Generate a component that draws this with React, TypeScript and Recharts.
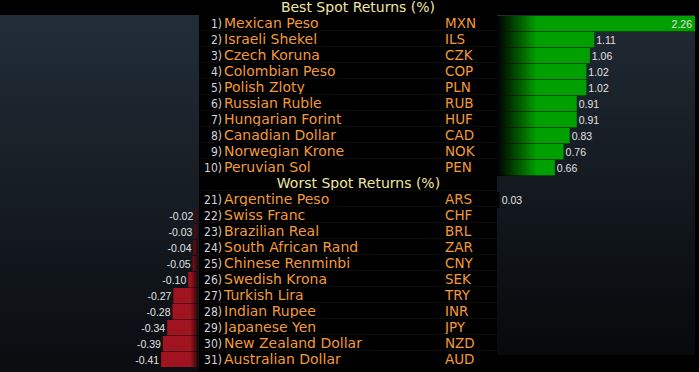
import { BarChart, Bar, XAxis, YAxis, LabelList } from 'recharts';

const bestRanks = [1, 2, 3, 4, 5, 6, 7, 8, 9, 10];
const bestNames = ['Mexican Peso', 'Israeli Shekel', 'Czech Koruna', 'Colombian Peso', 'Polish Zloty', 'Russian Ruble', 'Hungarian Forint', 'Canadian Dollar', 'Norwegian Krone', 'Peruvian Sol'];
const bestCodes = ['MXN', 'ILS', 'CZK', 'COP', 'PLN', 'RUB', 'HUF', 'CAD', 'NOK', 'PEN'];
const bestReturns = [2.26, 1.11, 1.06, 1.02, 1.02, 0.91, 0.91, 0.83, 0.76, 0.66];

const worstRanks = [21, 22, 23, 24, 25, 26, 27, 28, 29, 30, 31];
const worstNames = ['Argentine Peso', 'Swiss Franc', 'Brazilian Real', 'South African Rand', 'Chinese Renminbi', 'Swedish Krona', 'Turkish Lira', 'Indian Rupee', 'Japanese Yen', 'New Zealand Dollar', 'Australian Dollar'];
const worstCodes = ['ARS', 'CHF', 'BRL', 'ZAR', 'CNY', 'SEK', 'TRY', 'INR', 'JPY', 'NZD', 'AUD'];
const worstReturns = [0.03, -0.02, -0.03, -0.04, -0.05, -0.10, -0.27, -0.28, -0.34, -0.39, -0.41];

const titles = ['Best Spot Returns (%)', 'Worst Spot Returns (%)'];

type Row = {
    key: string;
    rank?: number;
    name?: string;
    code?: string;
    header?: string;
    pos: number | null;
    neg: number | null;
};

const toRow = (prefix: string, ranks: number[], names: string[], codes: string[], vals: number[]): Row[] =>
    names.map((n, i) => ({
        key: `${prefix}${i}`,
        rank: ranks[i],
        name: n,
        code: codes[i],
        pos: vals[i] >= 0 ? vals[i] : null,
        neg: vals[i] < 0 ? vals[i] : null,
    }));

const rows: Row[] = [
    ...toRow('b', bestRanks, bestNames, bestCodes, bestReturns),
    { key: 'hdr', header: titles[1], pos: null, neg: null },
    ...toRow('w', worstRanks, worstNames, worstCodes, worstReturns),
];

const ORANGE = '#f09a3a';
const CREAM = '#f2e6a4';
const LABEL = '#e2e2e2';
const ROW_H = 16;
const CHART_H = rows.length * ROW_H;
const MID_W = 298;

// bar fills the row, with a darker 1px seam at its bottom
// eslint-disable-next-line @typescript-eslint/no-explicit-any
const BarShape = (p: any) => {
    let { x, width } = p;
    if (width < 0) { x += width; width = -width; }
    if (!width) return null;
    const top = Math.floor(p.y);
    return (
        <g>
            <rect x={x} y={top} width={width} height={ROW_H} fill={p.fill} />
            <rect x={x} y={top + ROW_H - 1} width={width} height={1} fill="rgba(0,0,0,0.55)" />
        </g>
    );
};

// eslint-disable-next-line @typescript-eslint/no-explicit-any
const RowTick = (props: any) => {
    const { y, payload } = props;
    const row = rows.find(r => r.key === payload.value);
    if (!row) return null;
    if (row.header) {
        return (
            <text x={159.5} y={y + 5} textAnchor="middle" fill={CREAM} fontSize={14} fontFamily="DejaVu Sans">
                {row.header}
            </text>
        );
    }
    return (
        <g>
            <line x1={2} x2={MID_W} y1={y - 8.5} y2={y - 8.5} stroke="#0c0c0c" />
            <text x={23} y={y + 4.5} textAnchor="end" fill="#d4d4dc" fontSize={12}
                fontFamily="'Liberation Sans Narrow', 'DejaVu Sans Condensed', sans-serif">
                {row.rank})
            </text>
            <text x={25} y={y + 5} fill={ORANGE} fontSize={14} fontFamily="DejaVu Sans">{row.name}</text>
            <text x={246} y={y + 5} fill={ORANGE} fontSize={13.5} fontFamily="DejaVu Sans">{row.code}</text>
        </g>
    );
};

// eslint-disable-next-line @typescript-eslint/no-explicit-any
const PosLabel = (p: any) => {
    if (p.value == null) return null;
    const inside = p.value > 2;
    const cy = Math.floor(p.y) + 7.5;
    return (
        <text x={inside ? p.x + p.width - 3 : p.x + p.width + 2} y={cy + 4}
            textAnchor={inside ? 'end' : 'start'} fill={LABEL} fontSize={10.5} fontFamily="Liberation Sans">
            {Number(p.value).toFixed(2)}
        </text>
    );
};

// eslint-disable-next-line @typescript-eslint/no-explicit-any
const NegLabel = (p: any) => {
    if (p.value == null) return null;
    const left = Math.min(p.x, p.x + p.width);
    const cy = Math.floor(p.y) + 7.5;
    return (
        <text x={left - 2} y={cy + 4} textAnchor="end" fill={LABEL} fontSize={10.5} fontFamily="Liberation Sans">
            {Number(p.value).toFixed(2)}
        </text>
    );
};

export default function App() {
    return (
        <div style={{ position: 'absolute', left: 0, top: 0, width: 699, height: 372, background: '#000', overflow: 'hidden' }}>
            <div style={{ position: 'absolute', left: 0, top: 15, width: 199, height: 357, background: 'linear-gradient(#222d38, #0a0c0f)' }} />
            <div style={{ position: 'absolute', left: 497, top: 15, width: 198, height: 340, background: 'linear-gradient(#202a34, #07090b)' }} />
            <div style={{ position: 'absolute', left: 209, top: 0, width: 298, height: 15, lineHeight: '15px', textAlign: 'center', color: CREAM, fontSize: 14, fontFamily: 'DejaVu Sans' }}>
                {titles[0]}
            </div>

            <div style={{ position: 'absolute', left: 0, top: 15 }}>
                <BarChart width={197} height={CHART_H} data={rows} layout="vertical" margin={{ top: 0, right: 0, bottom: 0, left: 0 }}>
                    <defs>
                        <linearGradient id="redFade" gradientUnits="userSpaceOnUse" x1={0} y1={0} x2={197} y2={0}>
                            <stop offset="0.965" stopColor="#a01422" />
                            <stop offset="1" stopColor="#3c070c" />
                        </linearGradient>
                    </defs>
                    <XAxis type="number" domain={[-2.25, 0]} hide />
                    <YAxis type="category" dataKey="key" hide />
                    <Bar dataKey="neg" barSize={15} fill="url(#redFade)" shape={BarShape} isAnimationActive={false}>
                        <LabelList dataKey="neg" content={NegLabel} />
                    </Bar>
                </BarChart>
            </div>

            <div style={{ position: 'absolute', left: 199, top: 15 }}>
                <BarChart width={MID_W + 198} height={CHART_H} data={rows} layout="vertical" margin={{ top: 0, right: 0, bottom: 0, left: 0 }}>
                    <defs>
                        <linearGradient id="greenFade" gradientUnits="userSpaceOnUse" x1={MID_W} y1={0} x2={MID_W + 40} y2={0}>
                            <stop offset="0" stopColor="#000000" />
                            <stop offset="0.3" stopColor="#003000" />
                            <stop offset="1" stopColor="#00a000" />
                        </linearGradient>
                    </defs>
                    <XAxis type="number" domain={[0, 2.26]} hide />
                    <YAxis type="category" dataKey="key" width={MID_W} axisLine={false} tickLine={false} interval={0} tick={RowTick} />
                    <Bar dataKey="pos" barSize={15} fill="url(#greenFade)" shape={BarShape} isAnimationActive={false}>
                        <LabelList dataKey="pos" content={PosLabel} />
                    </Bar>
                </BarChart>
            </div>
        </div>
    );
}
